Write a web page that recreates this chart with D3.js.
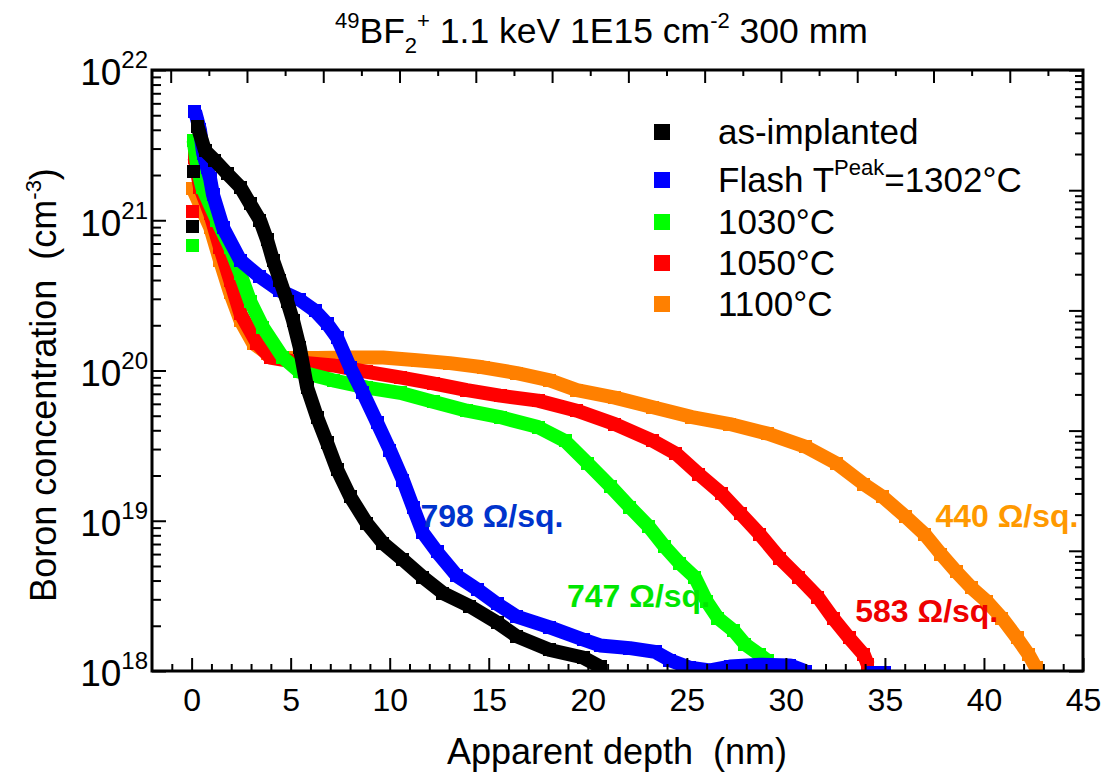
<!DOCTYPE html>
<html>
<head>
<meta charset="utf-8">
<script src="https://cdn.jsdelivr.net/npm/d3@7"></script>
<style>
  body { margin: 0; background: #fff; }
  text { font-family: "Liberation Sans", Arial, sans-serif; fill: #000; }
</style>
</head>
<body>
<div id="chart"></div>
<script>
// depth (nm), boron concentration (cm^-3); null = gap between isolated surface points and the profile
const asImplanted = [
  [0.05, 9.1e20], null, [0.12, 2.1e21], null,
  [0.3, 4.2e21], [0.68, 2.9e21], [1.18, 2.5e21], [1.79, 2.05e21], [2.46, 1.66e21], [2.95, 1.29e21],
  [3.45, 1.0e21], [3.81, 7.4e20], [4.11, 5.4e20], [4.46, 4.0e20], [4.82, 2.9e20], [5.12, 2.15e20],
  [5.46, 1.42e20], [5.83, 7.7e19], [6.33, 4.9e19], [6.84, 3.3e19], [7.34, 2.2e19], [8.0, 1.45e19],
  [8.85, 9.6e18], [9.66, 7.1e18], [10.67, 5.5e18], [11.68, 4.2e18], [12.69, 3.3e18], [14.05, 2.7e18],
  [15.42, 2.1e18], [16.42, 1.7e18], [18.09, 1.38e18], [19.76, 1.23e18], [20.62, 1.07e18]
];
const flash1302 = [
  [0.17, 5.3e21], [0.42, 4.0e21], [0.58, 2.8e21], [0.78, 2.24e21], [0.93, 1.9e21], [1.08, 1.48e21],
  [1.59, 8.9e20], [2.46, 5.4e20], [3.45, 4.2e20], [4.46, 3.4e20], [5.46, 2.95e20], [6.23, 2.5e20],
  [6.84, 2.05e20], [7.34, 1.66e20], [8.0, 1.05e20], [8.65, 7.1e19], [9.36, 4.5e19], [10.01, 2.95e19],
  [10.67, 1.86e19], [11.18, 1.23e19], [11.68, 8.3e18], [12.39, 6.2e18], [13.39, 4.3e18], [14.41, 3.5e18],
  [15.42, 2.8e18], [16.42, 2.3e18], [18.09, 1.95e18], [19.76, 1.62e18], [20.62, 1.48e18], [22.13, 1.42e18],
  [23.4, 1.34e18], [24.15, 1.18e18], [25.16, 1.05e18], [26.17, 1.01e18], [27.18, 1.07e18], [28.7, 1.1e18],
  [30.2, 1.09e18], [30.97, 1.0e18], null, [34.3, 9.7e17], [35.0, 9.7e17]
];
const rta1030 = [
  [0.05, 6.8e20], null,
  [0.1, 3.4e21], [0.3, 2.2e21], [0.53, 1.66e21], [1.28, 1.0e21], [1.94, 6.6e20], [2.46, 4.4e20],
  [2.95, 2.9e20], [3.6, 1.94e20], [4.61, 1.22e20], [5.46, 9.8e19], [7.14, 8.6e19], [8.85, 7.7e19],
  [10.52, 7.1e19], [12.19, 6.2e19], [13.9, 5.4e19], [15.57, 4.9e19], [17.49, 4.2e19], [18.85, 3.4e19],
  [20.01, 2.4e19], [21.17, 1.68e19], [22.13, 1.23e19], [23.09, 9.1e18], [23.89, 6.7e18], [24.65, 5.2e18],
  [25.41, 4.2e18], [26.01, 2.9e18], [26.57, 2.25e18], [27.37, 1.85e18], [27.93, 1.51e18], [28.69, 1.28e18],
  [29.09, 1.17e18]
];
const rta1050 = [
  [0.05, 1.15e21], null,
  [0.15, 2.6e21], [0.42, 1.66e21], [0.93, 1.11e21], [1.43, 6.6e20], [1.94, 4.0e20], [2.46, 2.4e20],
  [3.3, 1.52e20], [3.96, 1.22e20], [5.46, 1.13e20], [7.14, 1.08e20], [8.85, 9.8e19], [10.52, 9.0e19],
  [12.19, 8.2e19], [13.9, 7.4e19], [15.57, 6.8e19], [17.49, 6.3e19], [19.45, 5.4e19], [21.37, 4.4e19],
  [23.29, 3.4e19], [24.45, 2.8e19], [25.61, 2.04e19], [26.77, 1.51e19], [27.73, 1.11e19], [28.69, 8.1e18],
  [29.7, 5.6e18], [30.66, 4.2e18], [31.62, 3.1e18], [32.38, 2.25e18], [33.19, 1.66e18], [33.94, 1.28e18],
  [34.14, 1.1e18]
];
const rta1100 = [
  [0.05, 1.63e21], [0.93, 9.0e20], [1.43, 5.4e20], [1.94, 3.3e20], [2.46, 2.16e20], [3.1, 1.52e20],
  [3.81, 1.3e20], [4.61, 1.21e20], [6.33, 1.21e20], [8.0, 1.22e20], [9.66, 1.22e20], [11.38, 1.17e20],
  [13.04, 1.12e20], [14.71, 1.05e20], [16.42, 9.6e19], [18.09, 8.6e19], [19.45, 7.4e19], [21.37, 6.6e19],
  [23.29, 5.7e19], [25.26, 4.9e19], [27.17, 4.4e19], [29.09, 3.8e19], [31.01, 3.1e19], [32.58, 2.4e19],
  [33.94, 1.75e19], [34.9, 1.44e19], [36.06, 1.06e19], [37.02, 8.1e18], [37.83, 6.0e18], [38.59, 4.6e18],
  [39.35, 3.6e18], [40.15, 2.9e18], [40.91, 2.25e18], [41.67, 1.66e18], [42.27, 1.28e18], [42.63, 1.05e18]
];

const seriesData = [asImplanted, flash1302, rta1030, rta1050, rta1100];
const seriesColors = ["#000000", "#0000ff", "#00ff00", "#ff0000", "#ff8000"];
const legendLabels = ["as-implanted", "Flash T", "1030°C", "1050°C", "1100°C"];

const sheetLabels = ["798 Ω/sq.", "747 Ω/sq.", "583 Ω/sq.", "440 Ω/sq."];
const sheetDepth = [11.55, 18.95, 33.5, 37.55];
const sheetConc = [9.1e18, 2.67e18, 2.12e18, 9.1e18];
const sheetColors = ["#0033cc", "#00e600", "#ee0000", "#ff9900"];

const xTicks = [0, 5, 10, 15, 20, 25, 30, 35, 40, 45];
const yTicks = [1e18, 1e19, 1e20, 1e21, 1e22];

const width = 1102;
const height = 779;
const svg = d3.select("#chart").append("svg").attr("width", width).attr("height", height);

const plotLeft = 152, plotRight = 1083, plotTop = 70, plotBottom = 671;
const x = d3.scaleLinear().domain([-2, 45]).range([plotLeft, plotRight]);
const y = d3.scaleLog().domain([1e18, 1e22]).range([plotBottom, plotTop]);
// top and right frame axes carry their own tick spacing
const xTop = d3.scaleLinear().domain([-0.245, 11.96]).range([plotLeft, plotRight]);
const yRight = d3.scaleLog().domain([1, 1e5]).range([plotBottom, plotTop]);

svg.append("clipPath").attr("id", "plot-clip")
  .append("rect").attr("x", plotLeft).attr("y", plotTop)
  .attr("width", plotRight - plotLeft).attr("height", plotBottom - plotTop);

const plot = svg.append("g").attr("clip-path", "url(#plot-clip)");

const line = d3.line()
  .defined(d => d !== null)
  .x(d => x(d[0]))
  .y(d => y(d[1]));

// draw from last legend entry to first so as-implanted / flash sit on top
d3.range(seriesData.length - 1, -1, -1).forEach(i => {
  const data = seriesData[i];
  const g = plot.append("g");
  g.append("path")
    .attr("d", line(data))
    .attr("fill", "none")
    .attr("stroke", seriesColors[i])
    .attr("stroke-width", 14)
    .attr("stroke-linejoin", "round");
  g.selectAll("rect")
    .data(data.filter(d => d !== null))
    .enter().append("rect")
    .attr("x", d => Math.round(x(d[0]) - 6.5))
    .attr("y", d => Math.round(y(d[1]) - 6.5))
    .attr("width", 13)
    .attr("height", 13)
    .attr("shape-rendering", "crispEdges")
    .attr("fill", seriesColors[i]);
});

// axes
function styleTicks(g) {
  g.select(".domain").remove();
  g.selectAll(".tick line").attr("stroke", "#000").attr("stroke-width", 2);
}

const minorX = d3.range(-1, 46).filter(v => v % 5 !== 0);
const minorY = [];
[1e18, 1e19, 1e20, 1e21].forEach(d => d3.range(2, 10).forEach(k => minorY.push(k * d)));
const minorYR = [];
[1, 10, 100, 1e3, 1e4].forEach(d => d3.range(2, 10).forEach(k => minorYR.push(k * d)));

svg.append("g").attr("transform", `translate(0,${plotBottom})`)
  .call(d3.axisBottom(x).tickValues(minorX).tickSize(-7).tickFormat(""))
  .call(styleTicks);

svg.append("g").attr("transform", `translate(0,${plotBottom})`)
  .call(d3.axisBottom(x).tickValues(xTicks).tickSize(-13).tickPadding(17).tickFormat(d3.format("d")))
  .call(styleTicks)
  .call(g => g.selectAll("text").attr("font-size", 32).attr("fill", "#000"));

svg.append("g").attr("transform", `translate(0,${plotTop})`)
  .call(d3.axisTop(xTop).tickValues(d3.range(0.5, 12, 1)).tickSize(-6).tickFormat(""))
  .call(styleTicks);
svg.append("g").attr("transform", `translate(0,${plotTop})`)
  .call(d3.axisTop(xTop).tickValues(d3.range(0, 12)).tickSize(-13).tickFormat(""))
  .call(styleTicks);

svg.append("g").attr("transform", `translate(${plotLeft},0)`)
  .call(d3.axisLeft(y).tickValues(minorY).tickSize(-9).tickFormat(""))
  .call(styleTicks);

svg.append("g").attr("transform", `translate(${plotLeft},0)`)
  .call(d3.axisLeft(y).tickValues(yTicks).tickSize(-14).tickPadding(4).tickFormat(""))
  .call(styleTicks)
  .call(g => {
    g.selectAll(".tick text").each(function(d) {
      const t = d3.select(this).attr("font-size", 37).attr("fill", "#000").attr("dy", "0.4em");
      t.append("tspan").text("10");
      t.append("tspan").attr("font-size", 24).attr("dy", -17).text(Math.round(Math.log10(d)));
    });
  });

svg.append("g").attr("transform", `translate(${plotRight},0)`)
  .call(d3.axisRight(yRight).tickValues(minorYR).tickSize(-8).tickFormat(""))
  .call(styleTicks);
svg.append("g").attr("transform", `translate(${plotRight},0)`)
  .call(d3.axisRight(yRight).tickValues([1, 10, 100, 1e3, 1e4, 1e5]).tickSize(-14).tickFormat(""))
  .call(styleTicks);

svg.append("rect")
  .attr("x", plotLeft).attr("y", plotTop)
  .attr("width", plotRight - plotLeft).attr("height", plotBottom - plotTop)
  .attr("fill", "none").attr("stroke", "#000").attr("stroke-width", 3);

// sheet resistance labels
sheetLabels.forEach((s, i) => {
  svg.append("text")
    .attr("x", x(sheetDepth[i]))
    .attr("y", y(sheetConc[i]))
    .attr("font-size", 32)
    .attr("font-weight", "bold")
    .style("fill", sheetColors[i])
    .text(s);
});

// legend
const legendY = [132, 180, 222, 263, 304];
legendLabels.forEach((label, i) => {
  svg.append("rect")
    .attr("x", 654).attr("y", legendY[i] - 8)
    .attr("width", 16).attr("height", 16)
    .attr("fill", seriesColors[i]);
  const t = svg.append("text")
    .attr("x", 718).attr("y", legendY[i] + 12)
    .attr("font-size", 35)
    .text(label);
  if (i === 1) {
    t.append("tspan").attr("font-size", 22).attr("dy", -17).text("Peak");
    t.append("tspan").attr("dy", 17).text("=1302°C");
  }
});

// title
const title = svg.append("text").attr("x", 335).attr("y", 43).attr("font-size", 35.5);
title.append("tspan").attr("font-size", 22).attr("dy", -15).text("49");
title.append("tspan").attr("dy", 15).text("BF");
title.append("tspan").attr("font-size", 22).attr("dy", 10).text("2");
title.append("tspan").attr("font-size", 22).attr("dy", -25).text("+");
title.append("tspan").attr("dy", 15).text(" 1.1 keV 1E15 cm");
title.append("tspan").attr("font-size", 22).attr("dy", -15).text("-2");
title.append("tspan").attr("dy", 15).text(" 300 mm");

// axis titles
svg.append("text")
  .attr("x", 617).attr("y", 764)
  .attr("text-anchor", "middle")
  .attr("font-size", 36)
  .attr("xml:space", "preserve")
  .text("Apparent depth  (nm)");

const yTitle = svg.append("text")
  .attr("transform", "translate(56,385) rotate(-90)")
  .attr("text-anchor", "middle")
  .attr("font-size", 36)
  .attr("xml:space", "preserve");
yTitle.append("tspan").text("Boron concentration  (cm");
yTitle.append("tspan").attr("font-size", 22).attr("dy", -15).text("-3");
yTitle.append("tspan").attr("dy", 15).text(")");
</script>
</body>
</html>
